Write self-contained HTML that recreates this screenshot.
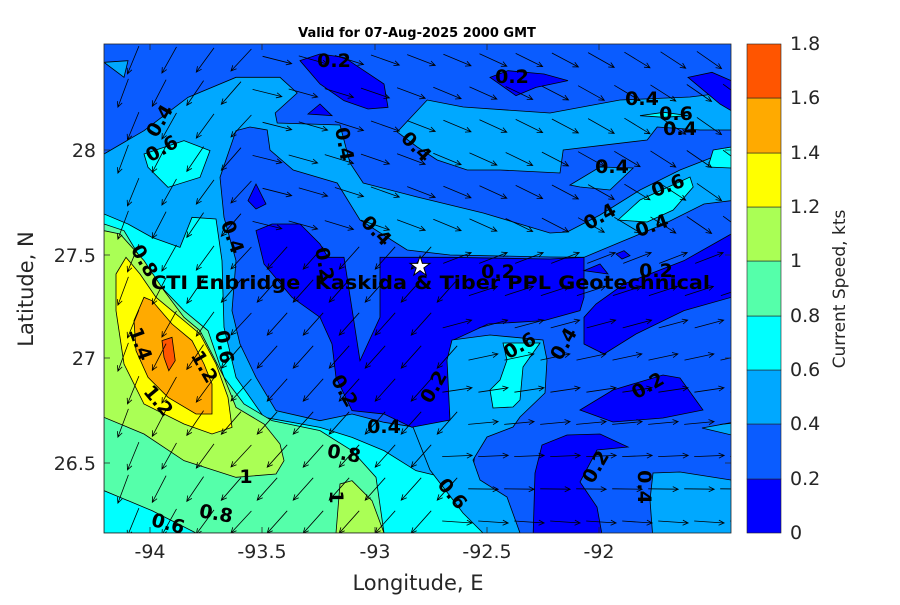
<!DOCTYPE html>
<html><head><meta charset="utf-8"><style>
body{margin:0;background:#fff;width:900px;height:600px;overflow:hidden}
</style></head><body>
<svg width="900" height="600" xmlns="http://www.w3.org/2000/svg" font-family="DejaVu Sans, Liberation Sans, sans-serif">
<defs><clipPath id="c"><rect x="104" y="44" width="627" height="489"/></clipPath></defs>
<g clip-path="url(#c)">
<rect x="104" y="44" width="627" height="489" fill="#0a5cff"/>
<g transform="translate(104,44) scale(0.4,0.33333)" stroke="#000" stroke-width="0.8">
<path vector-effect="non-scaling-stroke" fill="#00a8ff" d="M0,330 L100,260 L210,160 L330,100 L440,100 L483,147 L428,207 L433,237 L590,243 L615,357 L648,417 L783,459 L948,507 L1115,567 L1158,564 L1240,513 L1340,438 L1440,378 L1568,318 L1568,470 L1500,480 L1400,540 L1300,590 L1200,640 L1115,639 L865,633 L758,618 L640,528 L583,417 L473,378 L415,318 L408,258 L365,249 L330,260 L290,400 L300,520 L330,650 L320,800 L340,900 L380,1000 L430,1100 L540,1130 L620,1110 L700,1135 L780,1150 L860,1170 L930,1200 L920,1300 L960,1467 L0,1467 Z"/>
<path vector-effect="non-scaling-stroke" fill="#00a8ff" d="M0,55 L60,50 L50,100 Z"/>
<path vector-effect="non-scaling-stroke" fill="#00a8ff" d="M733,264 L808,168 L898,189 L1115,207 L1290,168 L1465,159 L1568,144 L1568,258 L1490,258 L1383,249 L1358,288 L1148,318 L1140,387 L990,378 L908,378 L833,348 L783,309 Z"/>
<path vector-effect="non-scaling-stroke" fill="#00a8ff" d="M1165,423 L1240,369 L1323,372 L1265,438 L1190,429 Z"/>
<!-- deep blue -->
<path vector-effect="non-scaling-stroke" fill="#0000ff" d="M380,560 L420,540 L490,540 L540,600 L560,640 L600,640 L640,950 L690,820 L690,640 L760,640 L865,640 L1115,645 L1200,640 L1200,760 L1190,800 L1100,830 L960,840 L870,890 L860,950 L865,1130 L770,1150 L700,1110 L620,1100 L580,1000 L570,900 L540,820 L470,760 L400,660 Z"/>
<path vector-effect="non-scaling-stroke" fill="#0000ff" d="M1200,900 L1250,930 L1330,870 L1450,800 L1568,760 L1568,570 L1450,650 L1300,720 L1230,780 L1200,820 Z"/>
<path vector-effect="non-scaling-stroke" fill="#0000ff" d="M490,50 L540,30 L600,40 L700,120 L710,190 L660,195 L600,170 L540,120 Z"/>
<path vector-effect="non-scaling-stroke" fill="#0000ff" d="M965,100 L1010,80 L1100,90 L1160,110 L1080,130 L1030,155 Z"/>
<path vector-effect="non-scaling-stroke" fill="#0000ff" d="M510,210 L540,180 L570,215 Z"/>
<path vector-effect="non-scaling-stroke" fill="#0000ff" d="M360,470 L380,420 L405,480 L380,495 Z"/>
<path vector-effect="non-scaling-stroke" fill="#0000ff" d="M1460,100 L1520,85 L1568,110 L1568,200 L1540,180 Z"/>
<path vector-effect="non-scaling-stroke" fill="#0000ff" d="M1280,630 L1300,620 L1315,635 L1295,645 Z"/>
<path vector-effect="non-scaling-stroke" fill="#0000ff" d="M1200,680 L1240,660 L1260,690 Z"/>
<!-- cyan -->
<path vector-effect="non-scaling-stroke" fill="#00ffff" d="M100,330 L200,290 L265,320 L240,400 L160,430 L110,370 Z"/>
<path vector-effect="non-scaling-stroke" fill="#00ffff" d="M0,510 L60,540 L120,580 L190,610 L220,520 L280,525 L295,650 L300,850 L330,1000 L400,1120 L540,1150 L620,1180 L700,1220 L780,1280 L850,1300 L930,1380 L960,1467 L0,1467 Z"/>
<path vector-effect="non-scaling-stroke" fill="#00ffff" d="M1285,528 L1340,468 L1465,399 L1473,429 L1423,498 L1358,534 Z"/>
<path vector-effect="non-scaling-stroke" fill="#00ffff" d="M1523,318 L1568,309 L1568,372 L1510,369 Z"/>
<path vector-effect="non-scaling-stroke" fill="#00ffff" d="M1340,215 L1400,205 L1460,215 L1400,220 Z"/>
<!-- green -->
<path vector-effect="non-scaling-stroke" fill="#55ffaa" d="M0,540 L50,560 L120,700 L200,800 L260,860 L300,1000 L350,1080 L420,1130 L540,1160 L620,1220 L680,1300 L700,1467 L230,1467 L120,1400 L0,1340 Z"/>
<path vector-effect="non-scaling-stroke" fill="#aaff55" d="M0,560 L40,570 L100,650 L150,740 L200,820 L240,860 L300,1000 L330,1090 L400,1140 L440,1200 L450,1250 L430,1290 L330,1300 L200,1250 L100,1170 L0,1120 Z"/>
<path vector-effect="non-scaling-stroke" fill="#aaff55" d="M580,1467 L590,1320 L620,1310 L670,1370 L700,1467 Z"/>
<path vector-effect="non-scaling-stroke" fill="#ffff00" d="M30,690 L55,640 L90,690 L130,760 L190,820 L240,870 L280,960 L310,1060 L320,1150 L270,1170 L200,1140 L100,1080 L50,960 L30,800 Z"/>
<path vector-effect="non-scaling-stroke" fill="#ffaa00" d="M75,830 L100,760 L120,770 L170,840 L220,890 L250,960 L270,1020 L270,1110 L230,1110 L160,1060 L110,1000 L80,920 Z"/>
<path vector-effect="non-scaling-stroke" fill="#ff5500" d="M145,890 L170,880 L178,950 L162,980 L150,940 Z"/>
</g>
<g stroke="#000" stroke-width="0.8">
<path fill="#00a8ff" d="M452,340 L490,335 L543,340 L547,360 L545,393 L520,417 L513,427 L487,437 L473,460 L480,480 L507,497 L520,533 L483,533 L463,513 L430,470 L413,427 L450,420 L447,360 Z"/>
<path fill="#00ffff" d="M490,390 L500,380 L507,360 L503,343 L540,343 L523,367 L520,400 L513,407 L493,408 Z"/>
<path fill="#0000ff" d="M533,540 L535,473 L542,445 L567,435 L600,434 L628,447 L597,450 L580,482 L597,507 L603,540 Z"/>
<path fill="#0000ff" d="M580,410 L613,390 L663,375 L680,378 L703,410 L663,418 L613,422 Z"/>
<path fill="#00a8ff" d="M653,540 L650,500 L653,473 L680,472 L731,480 L740,540 Z"/>
<path fill="#00a8ff" d="M702,428 L740,421 L740,437 Z"/>
</g>
</g>
<g id="arr" stroke="#000" stroke-width="0.8" fill="none" clip-path="url(#c)"></g>
<rect x="104" y="44" width="627" height="489" fill="none" stroke="#262626" stroke-width="0.8"/>
<g stroke="#262626" stroke-width="0.8">
<path d="M150,533v-6M262,533v-6M375,533v-6M487,533v-6M599,533v-6M150,44v6M262,44v6M375,44v6M487,44v6M599,44v6M104,150h6M104,255h6M104,358h6M104,463h6M731,150h-6M731,255h-6M731,358h-6M731,463h-6"/>
</g>
<g font-size="19" font-weight="bold" fill="#000" text-anchor="middle" dominant-baseline="central">
<text x="334" y="61">0.2</text><text x="512" y="77">0.2</text><text x="642" y="99">0.4</text><text x="676" y="114">0.6</text><text x="680" y="129">0.4</text>
<text transform="translate(160,121) rotate(-60)">0.4</text><text transform="translate(162,149) rotate(-30)">0.6</text>
<text transform="translate(344,144) rotate(80)">0.4</text><text transform="translate(416,147) rotate(45)">0.4</text>
<text x="612" y="167">0.4</text><text transform="translate(668,186) rotate(-20)">0.6</text>
<text transform="translate(600,217) rotate(-30)">0.4</text><text transform="translate(652,226) rotate(-20)">0.4</text>
<text transform="translate(232,237) rotate(70)">0.4</text><text transform="translate(376,231) rotate(45)">0.4</text>
<text transform="translate(324,264) rotate(80)">0.2</text><text x="498" y="272">0.2</text><text x="656" y="271">0.2</text>
<text transform="translate(144,261) rotate(60)">0.8</text>
<text transform="translate(140,344) rotate(70)">1.4</text><text transform="translate(204,367) rotate(60)">1.2</text>
<text transform="translate(158,401) rotate(50)">1.2</text><text transform="translate(224,347) rotate(80)">0.6</text>
<text transform="translate(520,346) rotate(-30)">0.6</text><text transform="translate(564,344) rotate(-60)">0.4</text>
<text transform="translate(344,391) rotate(60)">0.2</text><text transform="translate(434,387) rotate(-60)">0.2</text>
<text x="384" y="427">0.4</text><text transform="translate(648,386) rotate(-30)">0.2</text>
<text transform="translate(344,454) rotate(10)">0.8</text><text x="246" y="477">1</text>
<text transform="translate(336,497) rotate(90)">1</text><text transform="translate(452,494) rotate(50)">0.6</text>
<text transform="translate(596,467) rotate(-60)">0.2</text><text transform="translate(644,487) rotate(90)">0.4</text>
<text transform="translate(216,514) rotate(10)">0.8</text><text transform="translate(168,524) rotate(15)">0.6</text>
</g>
<text x="151" y="289" font-size="19" font-weight="bold" textLength="559" lengthAdjust="spacingAndGlyphs" xml:space="preserve">CTI Enbridge  Kaskida &amp; Tiber PPL Geotechnical</text>
<text x="420" y="275" font-size="26" fill="#fff" stroke="#000" stroke-width="1" text-anchor="middle">★</text>
<text x="417" y="37" font-size="13" font-weight="bold" text-anchor="middle">Valid for 07-Aug-2025 2000 GMT</text>
<g font-size="19" fill="#262626" text-anchor="middle">
<text x="150" y="558">-94</text><text x="262" y="558">-93.5</text><text x="375" y="558">-93</text><text x="487" y="558">-92.5</text><text x="599" y="558">-92</text>
<text x="418" y="590" font-size="21">Longitude, E</text>
</g>
<g font-size="19" fill="#262626" text-anchor="end">
<text x="96" y="157">28</text><text x="96" y="262">27.5</text><text x="96" y="365">27</text><text x="96" y="470">26.5</text>
</g>
<text x="33" y="289" font-size="21" fill="#262626" text-anchor="middle" transform="rotate(-90 33 289)">Latitude, N</text>
<g stroke="#222" stroke-width="0.6">
<rect x="747" y="479" width="34" height="54" fill="#0000ff"/>
<rect x="747" y="424" width="34" height="55" fill="#0a5cff"/>
<rect x="747" y="370" width="34" height="54" fill="#00a8ff"/>
<rect x="747" y="316" width="34" height="54" fill="#00ffff"/>
<rect x="747" y="261" width="34" height="55" fill="#55ffaa"/>
<rect x="747" y="207" width="34" height="54" fill="#aaff55"/>
<rect x="747" y="153" width="34" height="54" fill="#ffff00"/>
<rect x="747" y="98" width="34" height="55" fill="#ffaa00"/>
<rect x="747" y="44" width="34" height="54" fill="#ff5500"/>
</g>
<g font-size="19" fill="#262626">
<text x="790" y="539">0</text><text x="790" y="485">0.2</text><text x="790" y="430">0.4</text><text x="790" y="376">0.6</text><text x="790" y="322">0.8</text>
<text x="790" y="267">1</text><text x="790" y="213">1.2</text><text x="790" y="159">1.4</text><text x="790" y="104">1.6</text><text x="790" y="50">1.8</text>
</g>
<text x="845" y="289" font-size="17" fill="#262626" text-anchor="middle" transform="rotate(-90 845 289)">Current Speed, kts</text>
</svg>
<script>
var g=document.getElementById('arr'),s='';
for(var y=60;y<533;y+=33)for(var x=115;x<731;x+=36){
var xx=x+((y/33)%2)*10, a;
if(xx<260) a=1.9+ (xx-115)/300; else if(y<250) a=0.35+ (xx-400)/1200; else if(xx<450) a=2.3; else a=-0.3+(y-300)/600;
var L=30, dx=Math.cos(a)*L, dy=Math.sin(a)*L, x0=xx-dx/2,y0=y-dy/2,x1=xx+dx/2,y1=y+dy/2;
var h=6,b1=a+2.7,b2=a-2.7;
s+='<path d="M'+x0.toFixed(1)+','+y0.toFixed(1)+'L'+x1.toFixed(1)+','+y1.toFixed(1)+'M'+(x1+Math.cos(b1)*h).toFixed(1)+','+(y1+Math.sin(b1)*h).toFixed(1)+'L'+x1.toFixed(1)+','+y1.toFixed(1)+'L'+(x1+Math.cos(b2)*h).toFixed(1)+','+(y1+Math.sin(b2)*h).toFixed(1)+'"/>';}
g.innerHTML=s;
</script>
</body></html>
